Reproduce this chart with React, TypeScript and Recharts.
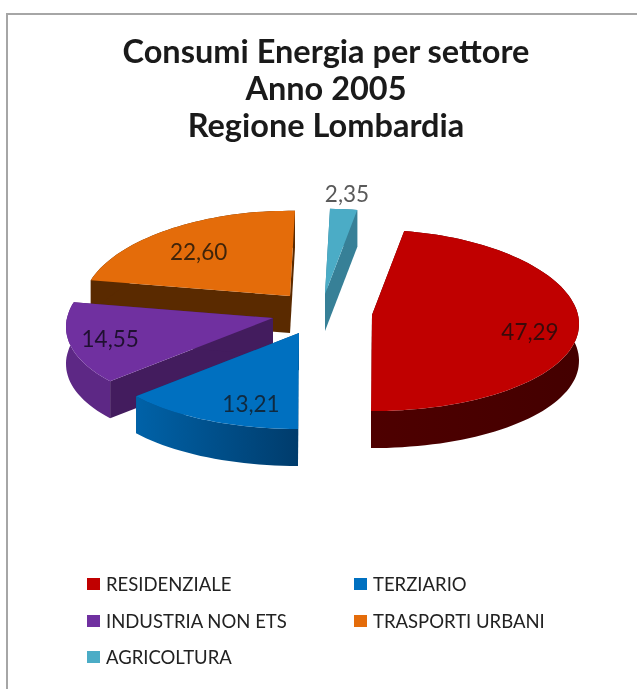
import { PieChart, Pie } from 'recharts';

// Values as printed on the slices (percent)
const categories = ['RESIDENZIALE', 'TERZIARIO', 'INDUSTRIA NON ETS', 'TRASPORTI URBANI', 'AGRICOLTURA'];
const values = [47.29, 13.21, 14.55, 22.6, 2.35];
const titleLines = ['Consumi Energia per settore', 'Anno 2005', 'Regione Lombardia'];

const topColors = ['#C00000', '#0070C0', '#7030A0', '#E46C0A', '#4BACC6'];
const wallColors = ['url(#wallRed)', 'url(#wallBlue)', '#5D2885', '#5A2A00', '#378097'];
const cutColors = ['#4A0000', '#00487C', '#431C5E', '#5A2A00', '#378097'];
const labelColors = ['#3A0A0A', '#0F2A40', '#1F1030', '#40240A', '#595959'];

// Exploded look: how far each slice is pulled from the pie centre
const explodeX = [47, -26, -52, -35, 0];
const explodeY = [-3, 15, 0, -22, -24];
const labelTurn = [8, -8, 0, -4, 0];
const labelReach = [0.77, 0.77, 0.8, 0.7, 1.18];

// Slices overlap, so paint back to front instead of in data order
const paintOrder = [3, 4, 0, 2, 1];

const FONT = 'Lato, "Open Sans", sans-serif';
const Y_SCALE = 0.44;
const DEPTH = 37;

const data = categories.map((name, i) => ({ name, value: values[i] }));

// 3D look: circle -> ellipse, front of the pie a bit bigger than the back
function project(cx: number, cy: number, r: number, reach: number, deg: number) {
  const theta = ((90 - deg) * Math.PI) / 180;
  const s = Math.sin(theta);
  const c = Math.cos(theta);
  return {
    x: cx + reach * r * s * (1 - 0.1 * c),
    y: cy - reach * r * Y_SCALE * c * (1 - 0.06 * c),
  };
}

function Slice(props: any) {
  const { cx, cy, outerRadius, startAngle, endAngle, midAngle, name } = props;
  const i = categories.indexOf(name);
  const ax = cx + explodeX[i];
  const ay = cy + explodeY[i];

  const rim: { x: number; y: number }[] = [];
  const steps = Math.max(2, Math.ceil(Math.abs(endAngle - startAngle) / 2));
  for (let k = 0; k <= steps; k++) {
    const deg = startAngle + ((endAngle - startAngle) * k) / steps;
    rim.push(project(ax, ay, outerRadius, 1, deg));
  }
  const line = (pts: { x: number; y: number }[], dy = 0) =>
    pts.map((p) => `${p.x.toFixed(1)},${(p.y + dy).toFixed(1)}`).join(' ');

  const first = rim[0];
  const last = rim[rim.length - 1];
  const label = project(ax, ay, outerRadius, labelReach[i], midAngle - labelTurn[i]);

  return (
    <g>
      <polygon points={`${ax},${ay} ${first.x},${first.y} ${first.x},${first.y + DEPTH} ${ax},${ay + DEPTH}`} fill={cutColors[i]} />
      <polygon points={`${ax},${ay} ${last.x},${last.y} ${last.x},${last.y + DEPTH} ${ax},${ay + DEPTH}`} fill={cutColors[i]} />
      <polygon points={`${line(rim)} ${line([...rim].reverse(), DEPTH)}`} fill={wallColors[i]} />
      <polygon points={`${ax},${ay} ${line(rim)}`} fill={topColors[i]} />
      <text
        x={label.x}
        y={label.y}
        textAnchor="middle"
        dominantBaseline="central"
        fontFamily={FONT}
        fontSize={22.5}
        fill={labelColors[i]}
      >
        {values[i].toFixed(2).replace('.', ',')}
      </text>
    </g>
  );
}

export default function App() {
  return (
    <div style={{ position: 'absolute', left: 0, top: 0, width: 637, height: 689, overflow: 'hidden', background: '#fff', filter: 'blur(0.7px)' }}>
      {/* Frame, runs off the right and bottom of the picture */}
      <div style={{ position: 'absolute', left: 6, top: 13, width: 700, height: 700, border: '2px solid #A6A6A6' }} />

      <div style={{ position: 'absolute', left: 0, top: 32, width: 652, textAlign: 'center', fontFamily: FONT, fontWeight: 700, fontSize: 32.5, lineHeight: '37px', color: '#1a1a1a' }}>
        {titleLines.map((t) => (
          <div key={t}>{t}</div>
        ))}
      </div>

      <div style={{ position: 'absolute', left: 0, top: 0 }}>
        <PieChart width={637} height={689} margin={{ top: 0, right: 0, bottom: 0, left: 0 }}>
          <defs>
            <linearGradient id="wallRed" x1="0" y1="0" x2="1" y2="0">
              <stop offset="0%" stopColor="#4E0000" />
              <stop offset="100%" stopColor="#440000" />
            </linearGradient>
            <linearGradient id="wallBlue" x1="0" y1="0" x2="1" y2="0">
              <stop offset="0%" stopColor="#0062A8" />
              <stop offset="100%" stopColor="#003C6C" />
            </linearGradient>
          </defs>
          {paintOrder.map((idx) => (
            <Pie
              key={idx}
              data={data}
              dataKey="value"
              nameKey="name"
              cx={325}
              cy={318}
              outerRadius={206}
              startAngle={80}
              endAngle={-280}
              paddingAngle={0}
              stroke="none"
              isAnimationActive={false}
              shape={(p: any) => (p.name === categories[idx] ? <Slice {...p} /> : <g />)}
            />
          ))}
        </PieChart>
      </div>

      {/* Legend: two columns, filled row by row */}
      <div style={{ position: 'absolute', left: 87, top: 566, width: 540, display: 'flex', flexWrap: 'wrap', fontFamily: FONT, fontSize: 18.5, color: '#222' }}>
        {categories.map((c, i) => (
          <div key={c} style={{ width: 267, height: 36.5, display: 'flex', alignItems: 'center', whiteSpace: 'nowrap' }}>
            <span style={{ width: 13, height: 12, background: topColors[i], marginRight: 6, flex: 'none' }} />
            {c}
          </div>
        ))}
      </div>
    </div>
  );
}
